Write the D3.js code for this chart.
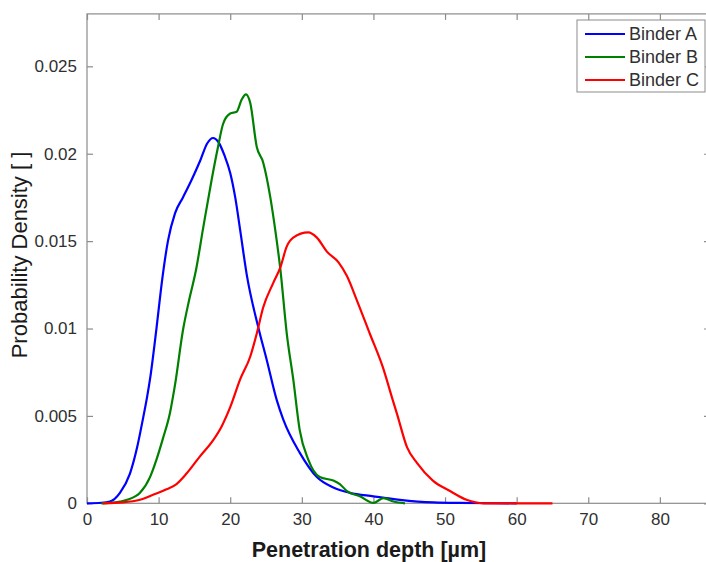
<!DOCTYPE html>
<html>
<head>
<meta charset="utf-8">
<script src="https://cdn.jsdelivr.net/npm/d3@7"></script>
<style>
body { margin: 0; background: #fff; }
text { font-family: "Liberation Sans", Arial, sans-serif; }
</style>
</head>
<body>
<svg width="706" height="562"></svg>
<script>
// data: [depth µm, density]
var binderA = [[0,0],[2,0.00003],[3.2,0.0001],[4.6,0.0006],[6,0.0017],[7,0.0032],[7.7,0.0046],[8.4,0.0061],
  [8.8,0.0071],[9.7,0.01],[10.5,0.0128],[11.3,0.015],[12.3,0.0166],[13.4,0.0175],[14.6,0.0185],[15.8,0.0196],
  [16.8,0.0206],[17.6,0.0209],[18.3,0.0207],[19.2,0.0199],[20,0.0189],[20.7,0.0175],[21.4,0.0156],[22.3,0.0131],
  [23.9,0.0101],[25.1,0.0082],[26.5,0.0059],[27.4,0.0048],[29.7,0.0029],[32.1,0.0015],[34.4,0.0009],
  [36.7,0.0006],[40,0.0004],[43.7,0.0002],[48.4,0.00005],[52,0.00002],[60,0]];
var binderB = [[2,0],[4,0.00005],[5.6,0.0002],[7.4,0.0006],[8.8,0.0015],[9.7,0.0025],[10.6,0.0037],
  [11.6,0.0052],[12.3,0.0068],[13.4,0.0099],[14.3,0.0117],[15.2,0.0133],[16.2,0.0157],[17.4,0.0185],
  [18.3,0.0204],[19,0.0217],[20,0.0223],[20.9,0.0224],[21.6,0.0231],[22.2,0.0234],[22.8,0.0229],
  [23.7,0.0204],[24.6,0.0195],[25.6,0.0175],[26.3,0.0156],[27,0.0134],[27.9,0.0097],[28.8,0.0071],
  [29.7,0.0042],[30.9,0.0025],[32.5,0.0015],[34.4,0.0013],[35.3,0.0011],[36.3,0.0007],[38.1,0.0004],
  [40,0.00002],[41.4,0.0003],[42.8,0.0001],[44.4,0]];
var binderC = [[2.2,0],[5,0.00005],[7.4,0.0002],[9.3,0.0005],[11.1,0.0008],[12.5,0.0011],[13.9,0.0017],
  [15.8,0.0027],[17.6,0.0036],[18.8,0.0044],[20,0.0055],[21.4,0.0071],[22.8,0.0084],[23.7,0.0097],
  [24.6,0.0112],[26,0.0126],[27,0.0135],[27.9,0.0147],[28.8,0.0152],[30.9,0.0155],[32.1,0.0152],
  [33.5,0.0144],[35.1,0.0138],[36.3,0.013],[37.7,0.0116],[39.5,0.0097],[41.3,0.0078],[42.7,0.0059],
  [43.3,0.0051],[44.7,0.0032],[46.1,0.0023],[48.3,0.0013],[50.7,0.0007],[53,0.0002],[55.4,0],[65,0]];

var seriesNames = ["Binder A", "Binder B", "Binder C"];
var seriesColors = ["#0000ff", "#008000", "#ff0000"];
var seriesData = [binderA, binderB, binderC];

var xTicks = [0, 10, 20, 30, 40, 50, 60, 70, 80];
var yTicks = [0, 0.005, 0.01, 0.015, 0.02, 0.025];
var yTickLabels = ["0", "0.005", "0.01", "0.015", "0.02", "0.025"];

var svg = d3.select("svg");
var axisColor = "#8c8c8c",
  labelColor = "#303030",
  tickLen = 6;

var x = d3.scaleLinear().domain([0, 87]).range([87, 710]);
var y = d3.scaleLinear().domain([0, 0.028]).range([503.3, 13.9]);

// plot box
svg.append("rect")
  .attr("x", x(0))
  .attr("y", y(0.028))
  .attr("width", x(87) - x(0))
  .attr("height", y(0) - y(0.028))
  .style("fill", "none")
  .style("stroke", axisColor)
  .style("stroke-width", 1.2);

// bottom axis, ticks inward
var xAxis = svg.append("g")
  .attr("transform", "translate(0," + y(0) + ")")
  .call(d3.axisBottom(x).tickValues(xTicks).tickSizeInner(-tickLen).tickSizeOuter(0).tickPadding(tickLen + 4));
xAxis.select(".domain").remove();
xAxis.selectAll("line").attr("stroke", axisColor).attr("stroke-width", 1.2);
xAxis.selectAll("text").style("font-size", "17px").attr("fill", labelColor);

// top mirror ticks
svg.append("g")
  .attr("transform", "translate(0," + y(0.028) + ")")
  .call(d3.axisTop(x).tickValues(xTicks).tickSizeInner(-tickLen).tickSizeOuter(0).tickFormat(""))
  .call(function(g) {
    g.select(".domain").remove();
    g.selectAll("line").attr("stroke", axisColor).attr("stroke-width", 1.2);
  });

// left axis
var yAxis = svg.append("g")
  .attr("transform", "translate(" + x(0) + ",0)")
  .call(d3.axisLeft(y).tickValues(yTicks).tickSizeInner(-tickLen).tickSizeOuter(0).tickPadding(tickLen + 4)
    .tickFormat(function(d, i) { return yTickLabels[i]; }));
yAxis.select(".domain").remove();
yAxis.selectAll("line").attr("stroke", axisColor).attr("stroke-width", 1.2);
yAxis.selectAll("text").style("font-size", "17px").attr("fill", labelColor);

// right mirror ticks
svg.append("g")
  .attr("transform", "translate(" + x(87) + ",0)")
  .call(d3.axisRight(y).tickValues(yTicks).tickSizeInner(-tickLen).tickSizeOuter(0).tickFormat(""))
  .call(function(g) {
    g.select(".domain").remove();
    g.selectAll("line").attr("stroke", axisColor).attr("stroke-width", 1.2);
  });

// curves
var line = d3.line()
  .x(function(d) { return x(d[0]); })
  .y(function(d) { return y(d[1]); })
  .curve(d3.curveMonotoneX);

svg.append("g")
  .selectAll("path")
  .data(seriesData)
  .enter().append("path")
  .attr("d", line)
  .style("fill", "none")
  .style("stroke", function(d, i) { return seriesColors[i]; })
  .style("stroke-width", 2.2)
  .style("stroke-linejoin", "round");

// axis titles
svg.append("text")
  .text("Penetration depth [µm]")
  .attr("x", 369)
  .attr("y", 557)
  .attr("text-anchor", "middle")
  .style("font-size", "21.5px")
  .style("font-weight", "bold")
  .attr("fill", "#1a1a1a");

svg.append("text")
  .text("Probability Density [ ]")
  .attr("transform", "translate(27,255)rotate(-90)")
  .attr("text-anchor", "middle")
  .style("font-size", "22px")
  .attr("fill", "#1a1a1a");

// legend
var legend = svg.append("g");
legend.append("rect")
  .attr("x", 577)
  .attr("y", 20)
  .attr("width", 128)
  .attr("height", 72)
  .style("fill", "#fff")
  .style("stroke", axisColor)
  .style("stroke-width", 1);

var item = legend.selectAll(".item")
  .data(seriesNames)
  .enter().append("g")
  .attr("class", "item")
  .attr("transform", function(d, i) { return "translate(0," + (34 + i * 23) + ")"; });

item.append("line")
  .attr("x1", 585).attr("x2", 625)
  .attr("stroke", function(d, i) { return seriesColors[i]; })
  .attr("stroke-width", 2.2);

item.append("text")
  .text(function(d) { return d; })
  .attr("x", 629)
  .attr("dy", "0.36em")
  .style("font-size", "18px")
  .attr("fill", labelColor);
</script>
</body>
</html>
